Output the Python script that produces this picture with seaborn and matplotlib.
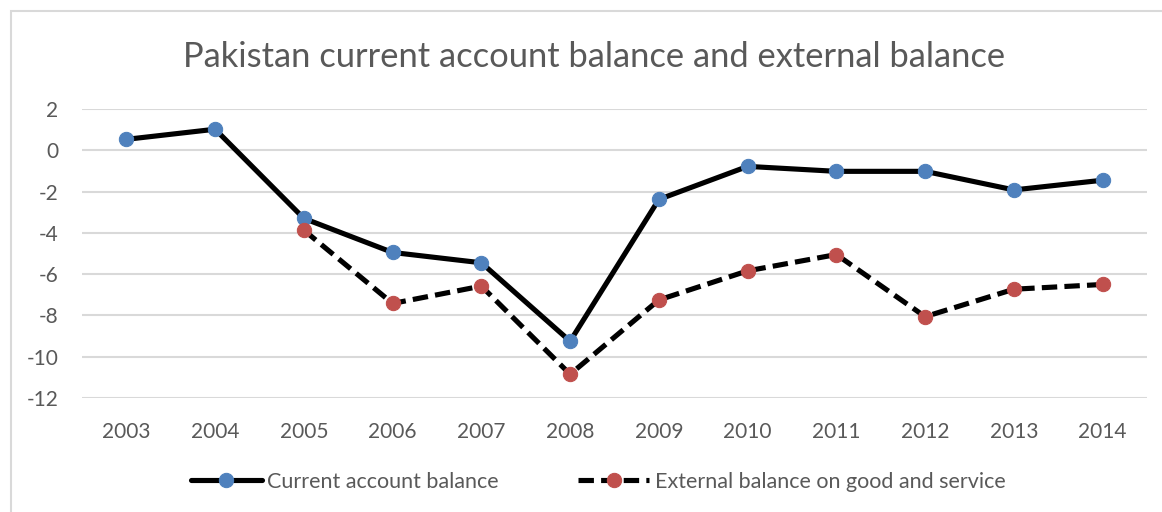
import matplotlib
matplotlib.use("Agg")
import matplotlib.pyplot as plt
import seaborn as sns
import pandas as pd
import numpy as np
from matplotlib.patches import Rectangle

years = ["2003", "2004", "2005", "2006", "2007", "2008", "2009",
         "2010", "2011", "2012", "2013", "2014"]
current_account = [0.53, 1.02, -3.3, -4.95, -5.45, -9.25, -2.38,
                   -0.78, -1.02, -1.02, -1.92, -1.45]
external_balance = [np.nan, np.nan, -3.87, -7.42, -6.58, -10.85, -7.25,
                    -5.84, -5.05, -8.06, -6.73, -6.5]
y_ticks = [2, 0, -2, -4, -6, -8, -10, -12]

sns.set_theme(style="white")
plt.rcParams["font.family"] = ["Lato", "DejaVu Sans"]

text_color = "#595959"
grid_color = "#d9d9d9"
blue = "#4F81BD"
red = "#C0504D"

df = pd.DataFrame({"year": years, "ca": current_account, "ext": external_balance})
df["pos"] = np.arange(len(years))

fig = plt.figure(figsize=(11.62, 5.12), dpi=100)
ax = fig.add_axes([82 / 1162, 1 - 398 / 512, (1147 - 82) / 1162, (398 - 109) / 512])

# outer chart frame
fig.patches.append(Rectangle((11 / 1162, -0.1), 1.2, 1 - 11 / 512 + 0.1,
                             transform=fig.transFigure, fill=False,
                             edgecolor=grid_color, linewidth=1.5))

sns.lineplot(data=df, x="pos", y="ca", ax=ax, color="black", linewidth=3.7,
             marker="o", markersize=10.3, markerfacecolor=blue,
             markeredgecolor=blue, label="Current account balance", zorder=3)
ext = df.dropna(subset=["ext"])
sns.lineplot(data=ext, x="pos", y="ext", ax=ax, color="black", linewidth=3.7,
             linestyle=(0, (3.0, 1.4)), marker="o", markersize=10.3,
             markerfacecolor=red, markeredgecolor=red,
             label="External balance on good and service", zorder=3)

ax.set_xlim(-0.5, len(years) - 0.5)
ax.set_ylim(-12, 2)
ax.set_xticks(df["pos"])
ax.set_xticklabels(years)
ax.set_yticks(y_ticks)
ax.set_yticklabels([str(v) for v in y_ticks])
ax.yaxis.grid(True, color=grid_color, linewidth=1.5)
ax.set_axisbelow(True)
for s in ax.spines.values():
    s.set_visible(False)
ax.tick_params(axis="both", length=0, labelsize=15, labelcolor=text_color)
ax.tick_params(axis="x", pad=17)
ax.tick_params(axis="y", pad=17)
ax.set_xlabel("")
ax.set_ylabel("")

fig.text(0.511, 1 - 57 / 512, "Pakistan current account balance and external balance",
         ha="center", va="center", fontsize=24.8, color=text_color)

leg = ax.legend(loc="center", bbox_to_anchor=(598 / 1162, 1 - 482 / 512),
                bbox_transform=fig.transFigure, ncol=2, frameon=False,
                fontsize=15.5, handlelength=3.3, handletextpad=0.25,
                columnspacing=3.7)
for t in leg.get_texts():
    t.set_color(text_color)

fig.savefig("out.png", dpi=100)
